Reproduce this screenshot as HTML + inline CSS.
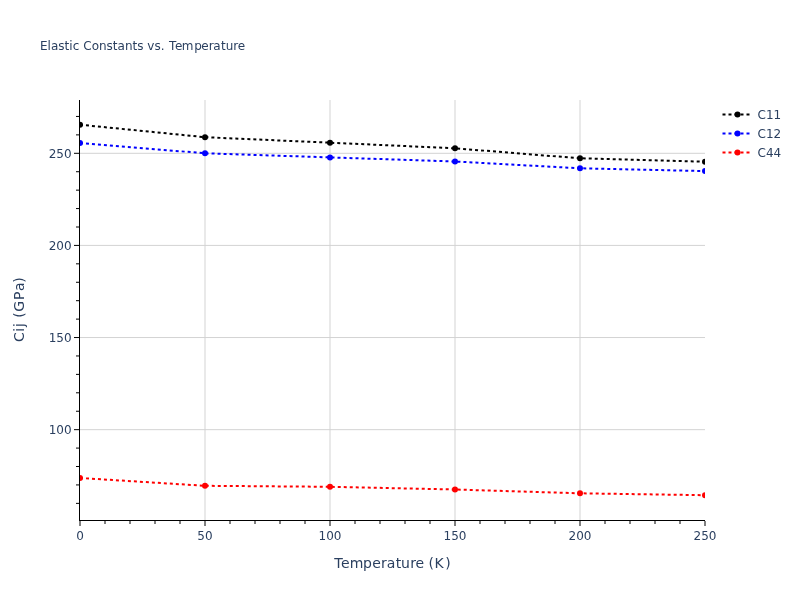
<!DOCTYPE html>
<html lang="en"><head><meta charset="utf-8"><title>Elastic Constants vs. Temperature</title>
<style>html,body{margin:0;padding:0;background:#fff;}body{width:800px;height:600px;overflow:hidden;}svg{display:block;will-change:transform;}text{font-family:"DejaVu Sans","Liberation Sans",sans-serif;fill:#2a3f5f;white-space:pre;}</style></head><body>
<svg width="800" height="600" viewBox="0 0 800 600">
<defs><clipPath id="plotclip"><rect x="80" y="100" width="625" height="420"/></clipPath></defs>
<g stroke="#d3d3d3" stroke-width="1" fill="none">
<path d="M205,100V520"/>
<path d="M330,100V520"/>
<path d="M455,100V520"/>
<path d="M580,100V520"/>
<path d="M80,429.66H705"/>
<path d="M80,337.54H705"/>
<path d="M80,245.42H705"/>
<path d="M80,153.3H705"/>
</g>
<g stroke="#000000" stroke-width="1" fill="none">
<path d="M80,521v5"/>
<path d="M105,521v3"/>
<path d="M130,521v3"/>
<path d="M155,521v3"/>
<path d="M180,521v3"/>
<path d="M205,521v5"/>
<path d="M230,521v3"/>
<path d="M255,521v3"/>
<path d="M280,521v3"/>
<path d="M305,521v3"/>
<path d="M330,521v5"/>
<path d="M355,521v3"/>
<path d="M380,521v3"/>
<path d="M405,521v3"/>
<path d="M430,521v3"/>
<path d="M455,521v5"/>
<path d="M480,521v3"/>
<path d="M505,521v3"/>
<path d="M530,521v3"/>
<path d="M555,521v3"/>
<path d="M580,521v5"/>
<path d="M605,521v3"/>
<path d="M630,521v3"/>
<path d="M655,521v3"/>
<path d="M680,521v3"/>
<path d="M705,521v5"/>
<path d="M79,503.36h-3"/>
<path d="M79,484.93h-3"/>
<path d="M79,466.51h-3"/>
<path d="M79,448.08h-3"/>
<path d="M79,429.66h-5"/>
<path d="M79,411.24h-3"/>
<path d="M79,392.81h-3"/>
<path d="M79,374.39h-3"/>
<path d="M79,355.96h-3"/>
<path d="M79,337.54h-5"/>
<path d="M79,319.12h-3"/>
<path d="M79,300.69h-3"/>
<path d="M79,282.27h-3"/>
<path d="M79,263.84h-3"/>
<path d="M79,245.42h-5"/>
<path d="M79,227h-3"/>
<path d="M79,208.57h-3"/>
<path d="M79,190.15h-3"/>
<path d="M79,171.72h-3"/>
<path d="M79,153.3h-5"/>
<path d="M79,134.88h-3"/>
<path d="M79,116.45h-3"/>
</g>
<g stroke="#000000" stroke-width="1" fill="none">
<path d="M79,520.5H705"/>
<path d="M79.5,100V520"/>
</g>
<g clip-path="url(#plotclip)">
<path d="M80,124.7L205,137.2L330,142.7L455,148.3L580,158.3L705,161.7" fill="none" stroke="#000000" stroke-width="2" stroke-dasharray="3,3"/>
<circle cx="80" cy="124.7" r="3" fill="#000000"/>
<circle cx="205" cy="137.2" r="3" fill="#000000"/>
<circle cx="330" cy="142.7" r="3" fill="#000000"/>
<circle cx="455" cy="148.3" r="3" fill="#000000"/>
<circle cx="580" cy="158.3" r="3" fill="#000000"/>
<circle cx="705" cy="161.7" r="3" fill="#000000"/>
<path d="M80,143L205,153.3L330,157.4L455,161.5L580,168.3L705,171.1" fill="none" stroke="#0000ff" stroke-width="2" stroke-dasharray="3,3"/>
<circle cx="80" cy="143" r="3" fill="#0000ff"/>
<circle cx="205" cy="153.3" r="3" fill="#0000ff"/>
<circle cx="330" cy="157.4" r="3" fill="#0000ff"/>
<circle cx="455" cy="161.5" r="3" fill="#0000ff"/>
<circle cx="580" cy="168.3" r="3" fill="#0000ff"/>
<circle cx="705" cy="171.1" r="3" fill="#0000ff"/>
<path d="M80,478L205,485.8L330,486.8L455,489.5L580,493.3L705,495.2" fill="none" stroke="#ff0000" stroke-width="2" stroke-dasharray="3,3"/>
<circle cx="80" cy="478" r="3" fill="#ff0000"/>
<circle cx="205" cy="485.8" r="3" fill="#ff0000"/>
<circle cx="330" cy="486.8" r="3" fill="#ff0000"/>
<circle cx="455" cy="489.5" r="3" fill="#ff0000"/>
<circle cx="580" cy="493.3" r="3" fill="#ff0000"/>
<circle cx="705" cy="495.2" r="3" fill="#ff0000"/>
</g>
<g font-size="12">
<text x="80" y="540" text-anchor="middle">0</text>
<text x="205" y="540" text-anchor="middle">50</text>
<text x="330" y="540" text-anchor="middle">100</text>
<text x="455" y="540" text-anchor="middle">150</text>
<text x="580" y="540" text-anchor="middle">200</text>
<text x="705" y="540" text-anchor="middle">250</text>
<text x="71.6" y="434" text-anchor="end">100</text>
<text x="71.6" y="342" text-anchor="end">150</text>
<text x="71.6" y="250" text-anchor="end">200</text>
<text x="71.6" y="158" text-anchor="end">250</text>
</g>
<path d="M722.5,114.5h30" fill="none" stroke="#000000" stroke-width="2" stroke-dasharray="3,3"/>
<circle cx="737.5" cy="114.5" r="3" fill="#000000"/>
<text x="757.5" y="119.18" font-size="12">C11</text>
<path d="M722.5,133.5h30" fill="none" stroke="#0000ff" stroke-width="2" stroke-dasharray="3,3"/>
<circle cx="737.5" cy="133.5" r="3" fill="#0000ff"/>
<text x="757.5" y="138.18" font-size="12">C12</text>
<path d="M722.5,152.5h30" fill="none" stroke="#ff0000" stroke-width="2" stroke-dasharray="3,3"/>
<circle cx="737.5" cy="152.5" r="3" fill="#ff0000"/>
<text x="757.5" y="157.18" font-size="12">C44</text>
<text x="40" y="50" font-size="12" dx="0 0 0 0 0 0 0 0 0.2 0 0 0 0 0 0 0 0 0 0 0 0 0 0.65 0.6 -0.6 0.85 -0.7 0.2 -0.55 0.55 -0.1 0 -0.2">Elastic Constants vs. Temperature</text>
<text x="335.875" y="568" font-size="14" dx="-1.75 0.7 0.15 -0.4 0.4 0 0 0.45 -0.15 0.15 -0.15 0.1 0 0.5 1.6">Temperature (K)</text>
<text transform="translate(24,310) rotate(-90)" x="-30.09" y="0" font-size="14" dx="-1.8 0.3 0.9 0.6 0.3 0.6 0.9 1.2 -0.3">Cij (GPa)</text>
</svg></body></html>
